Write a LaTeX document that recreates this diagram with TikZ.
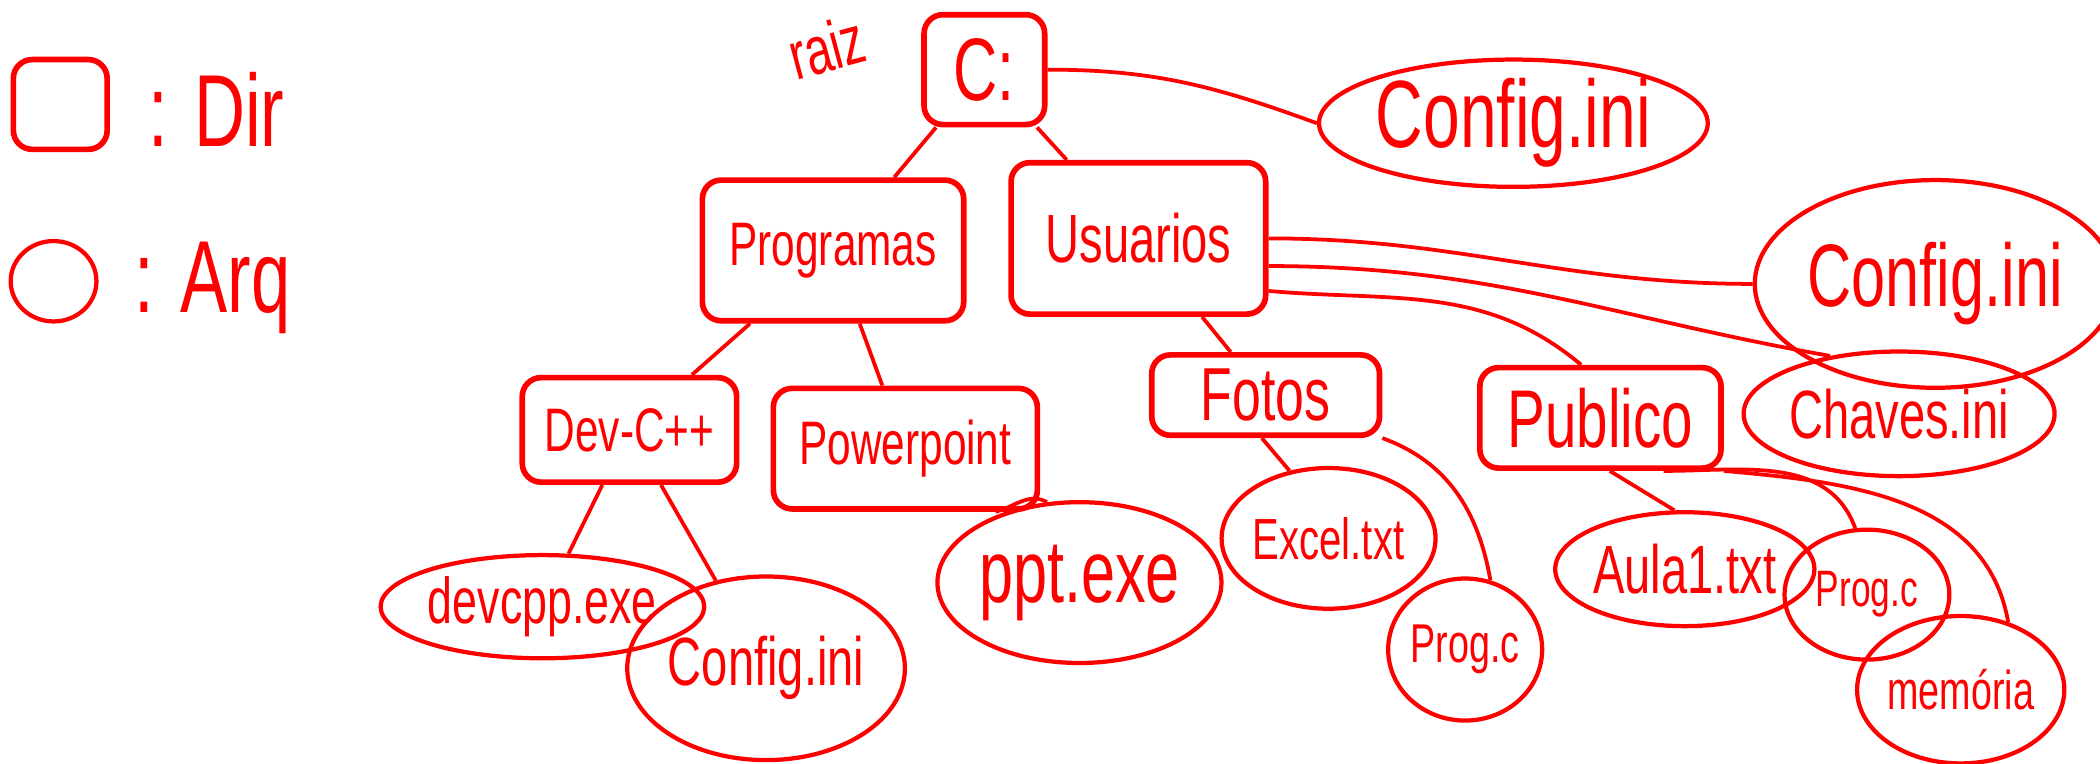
\documentclass[tikz,border=0pt]{standalone}
\usepackage{fontspec}
\setmainfont{Liberation Sans}
\usetikzlibrary{shapes.geometric}
\definecolor{ink}{RGB}{255,0,0}
% tall, hand-lettered looking text
\newcommand\tall[1]{\scalebox{1}[1.45]{#1}}
\tikzset{
  dirbox/.style={draw=ink, line width=1.2pt, rounded corners=4pt, inner sep=0pt},
  filebox/.style={draw=ink, ellipse, line width=0.9pt, inner sep=0pt},
  label/.style={text=ink, inner sep=0pt},
  link/.style={draw=ink, line width=0.8pt}
}
\begin{document}
\begin{tikzpicture}[x=0.01cm, y=-0.01cm]
\useasboundingbox (0,0) rectangle (1568,570);

% legend
\node[dirbox, minimum width=0.70cm, minimum height=0.67cm] (legdir) at (45,78) {};
\node[label, font=\fontsize{15}{16}\selectfont, anchor=west] (legdirt) at (110,82) {\tall{: Dir}};
\node[filebox, minimum width=0.64cm, minimum height=0.60cm] (legfile) at (40,210) {};
\node[label, font=\fontsize{15}{16}\selectfont, anchor=west] (legfilet) at (100,215) {\tall{: Arq}};

% root
\node[dirbox, minimum width=0.90cm, minimum height=0.82cm, font=\fontsize{13}{14}\selectfont, text=ink] (root) at (735,52) {\tall{C:}};
\node[label, font=\fontsize{10}{11}\selectfont, rotate=15] (raiz) at (617,35) {\tall{raiz}};

% directories
\node[dirbox, minimum width=1.95cm, minimum height=1.05cm, font=\fontsize{9}{10}\selectfont, text=ink] (prog) at (622,187) {\tall{Programas}};
\node[dirbox, minimum width=1.90cm, minimum height=1.13cm, font=\fontsize{10}{11}\selectfont, text=ink] (usu) at (850,178) {\tall{Usuarios}};
\node[dirbox, minimum width=1.60cm, minimum height=0.78cm, font=\fontsize{9}{10}\selectfont, text=ink] (dev) at (470,321) {\tall{Dev-C++}};
\node[dirbox, minimum width=1.97cm, minimum height=0.90cm, font=\fontsize{9}{10}\selectfont, text=ink] (ppt) at (676,335) {\tall{Powerpoint}};
\node[dirbox, minimum width=1.70cm, minimum height=0.60cm, font=\fontsize{11}{12}\selectfont, text=ink] (fotos) at (945,295) {\tall{Fotos}};
\node[dirbox, minimum width=1.80cm, minimum height=0.75cm, font=\fontsize{12}{13}\selectfont, text=ink] (pub) at (1195,312) {\tall{Publico}};

% files
\node[filebox, minimum width=2.70cm, minimum height=0.95cm, font=\fontsize{14}{15}\selectfont, text=ink] (cfga) at (1130,92) {\tall{Config.ini}};
\node[filebox, minimum width=2.34cm, minimum height=1.55cm, font=\fontsize{13}{14}\selectfont, text=ink] (cfgb) at (1445,212) {\tall{Config.ini}};
\node[filebox, minimum width=1.90cm, minimum height=0.93cm, font=\fontsize{10}{11}\selectfont, text=ink] (chaves) at (1418,309) {\tall{Chaves.ini}};
\node[filebox, minimum width=2.14cm, minimum height=0.77cm, font=\fontsize{9.5}{10}\selectfont, text=ink] (devcpp) at (405,453) {\tall{devcpp.exe}};
\node[filebox, minimum width=2.00cm, minimum height=1.37cm, font=\fontsize{10}{11}\selectfont, text=ink] (cfgc) at (572,499) {\tall{Config.ini}};
\node[filebox, minimum width=1.98cm, minimum height=1.20cm, font=\fontsize{13}{14}\selectfont, text=ink] (pptexe) at (806,435) {\tall{ppt.exe}};
\node[filebox, minimum width=1.47cm, minimum height=1.05cm, font=\fontsize{8.5}{9}\selectfont, text=ink] (excel) at (992,402) {\tall{Excel.txt}};
\node[filebox, minimum width=1.04cm, minimum height=1.06cm, font=\fontsize{8}{9}\selectfont, text=ink] (progca) at (1094,485) {\tall{Prog.c}};
\node[filebox, minimum width=1.85cm, minimum height=0.85cm, font=\fontsize{10}{11}\selectfont, text=ink] (aula) at (1258,425) {\tall{Aula1.txt}};
\node[filebox, minimum width=1.23cm, minimum height=0.97cm, font=\fontsize{7.5}{8}\selectfont, text=ink] (progcb) at (1394,444) {\tall{Prog.c}};
\node[filebox, minimum width=1.52cm, minimum height=1.10cm, font=\fontsize{8}{9}\selectfont, text=ink] (mem) at (1464,515) {\tall{memória}};

% tree links
\draw[link] (root) -- (prog);
\draw[link] (root) -- (usu);
\draw[link] (root.east) to[out=0, in=160] (cfga.west);
\draw[link] (usu.east) to[out=0, in=180] (cfgb.west);
\draw[link] (usu.-12) to[out=0, in=170] (chaves.140);
\draw[link] (usu.-22) to[out=-5, in=140] (pub.110);
\draw[link] (usu) -- (fotos);
\draw[link] (prog) -- (dev);
\draw[link] (prog) -- (ppt);
\draw[link] (dev) -- (devcpp);
\draw[link] (dev) -- (cfgc);
\draw[link] (ppt.-35) to[out=15, in=150] (pptexe.112);
\draw[link] (fotos.-95) -- (excel.120);
\draw[link] (fotos.south east) to[out=-20, in=100] (progca.70);
\draw[link] (pub.-80) -- (aula.100);
\draw[link] (pub.-40) to[out=0, in=110] (progcb.100);
\draw[link] (pub.south east) to[out=-5, in=100] (mem.55);
\end{tikzpicture}
\end{document}
